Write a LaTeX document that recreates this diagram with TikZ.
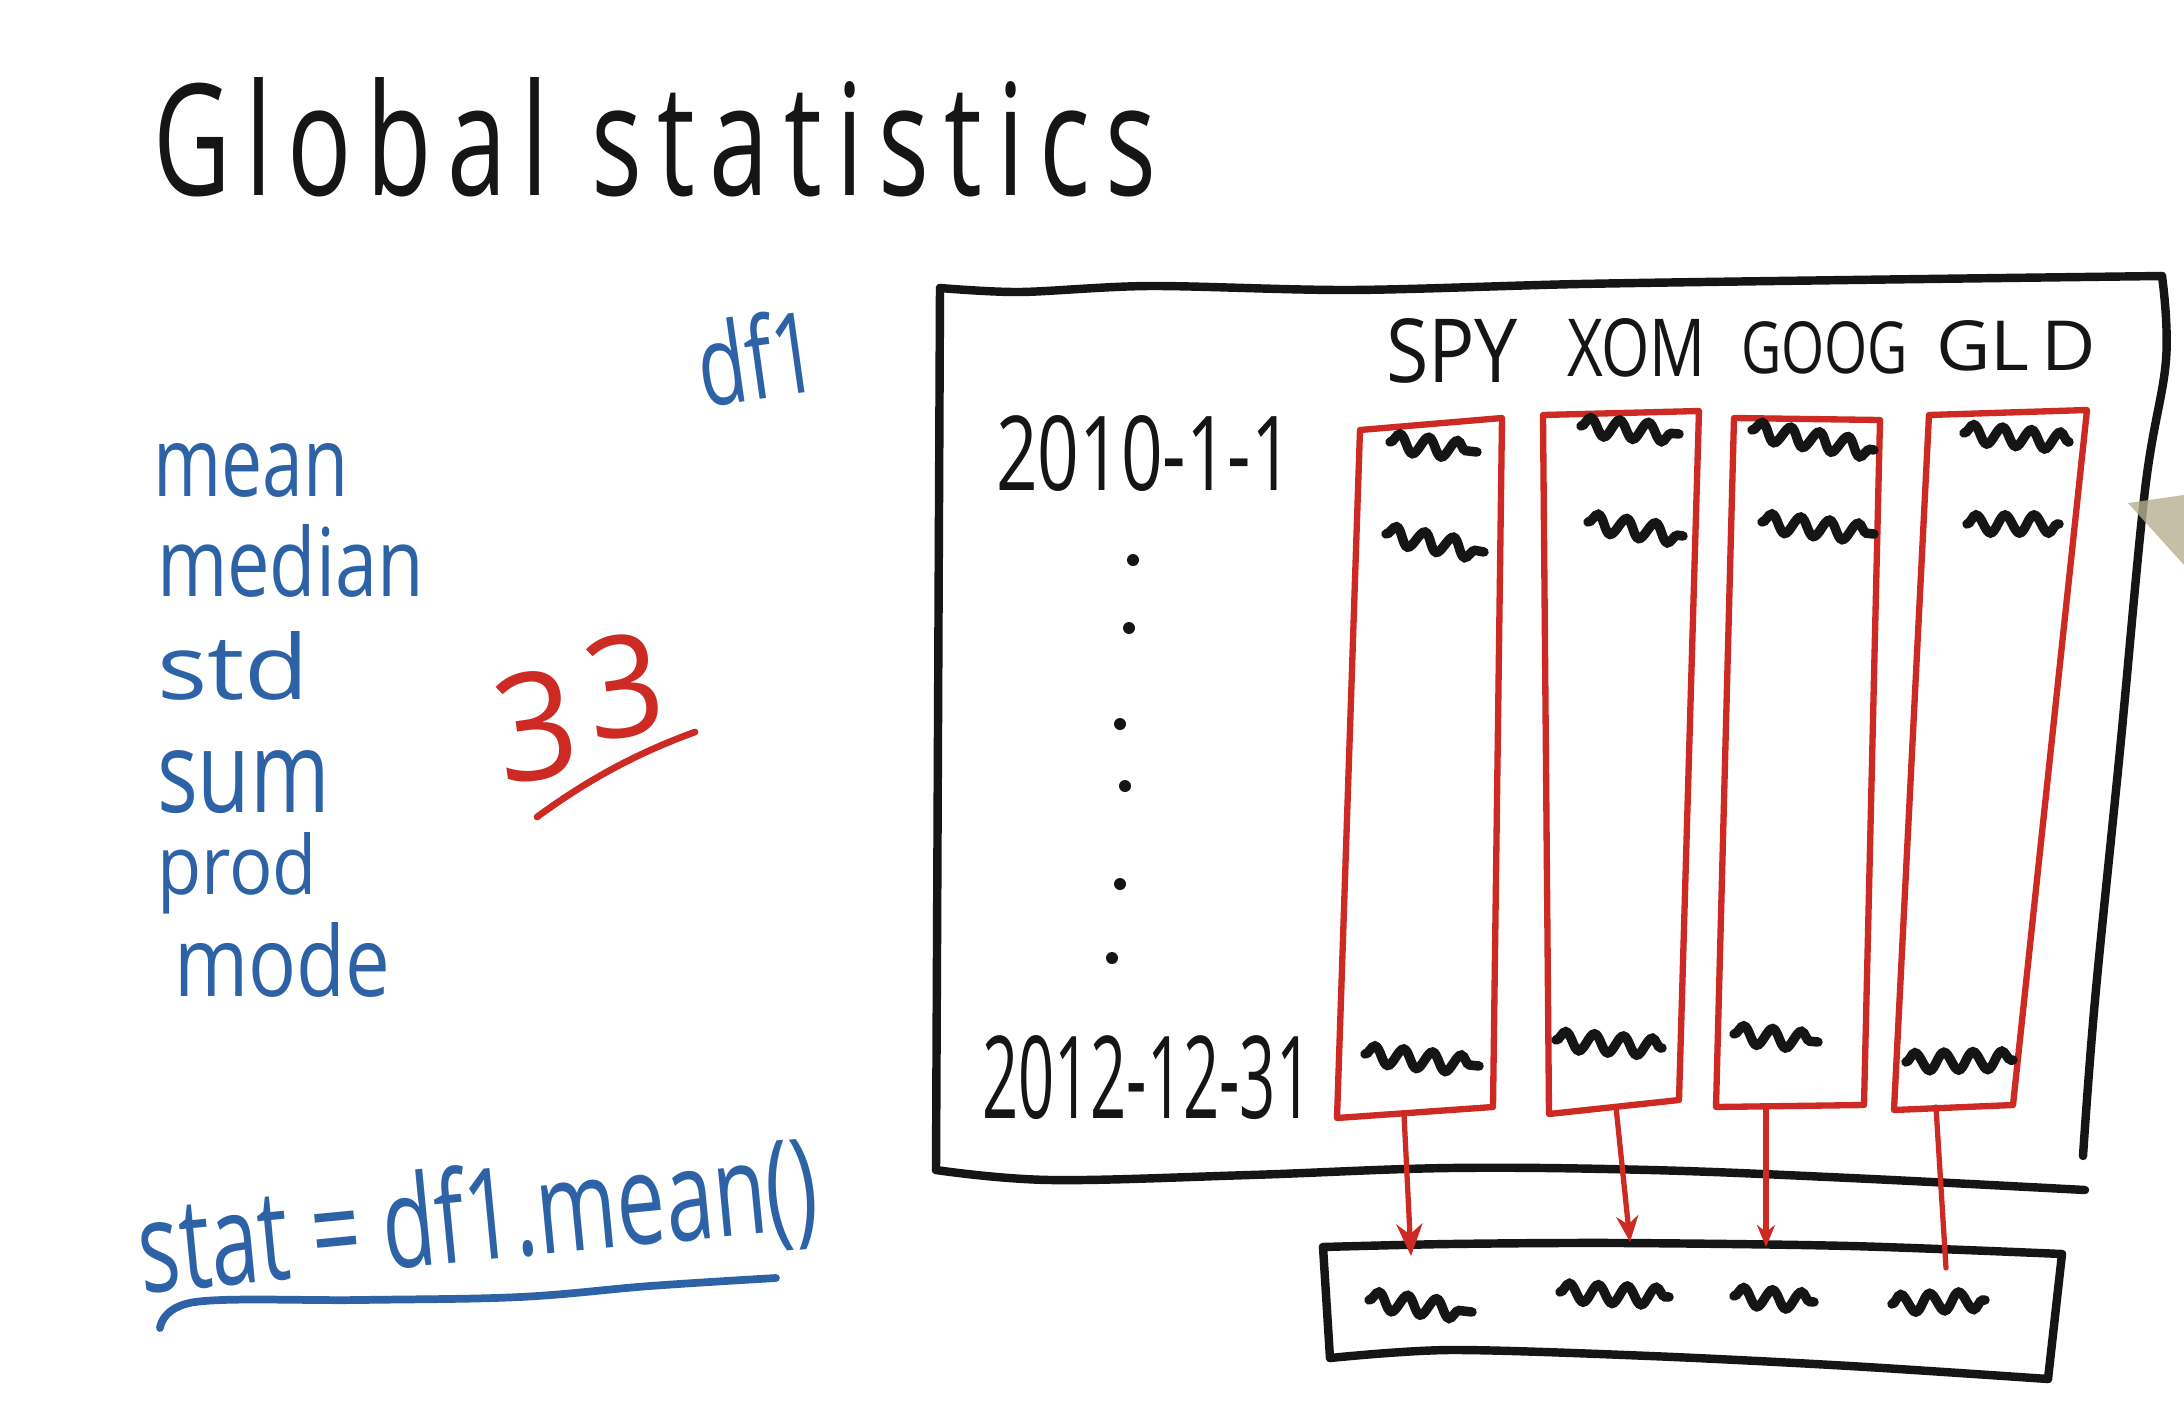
\documentclass[tikz,border=0pt]{standalone}
\usepackage{fontspec}
\setmainfont{Open Sans}
\newfontfamily\titlefont[LetterSpace=14]{Open Sans}
\usetikzlibrary{arrows.meta,decorations.pathmorphing}
\definecolor{pblue}{HTML}{2E62A6}
\definecolor{pred}{HTML}{CC2A22}
\definecolor{pblack}{HTML}{151515}
\definecolor{pen}{HTML}{B8AF92}
\newcommand\fitbox[3]{\resizebox{#1cm}{#2cm}{#3}}
\tikzset{
  txt/.style={inner sep=0pt, outer sep=0pt, anchor=base west},
  frame/.style={pblack, line width=2.4pt, line cap=round, line join=round},
  redbox/.style={pred, line width=1.8pt, line cap=round, line join=round},
  redarrow/.style={pred, line width=1.5pt, line cap=round},
  squ/.style={pblack, line width=2.7pt, line cap=round, decorate,
    decoration={snake, amplitude=0.9mm, segment length=2.9mm}},
  dotmark/.style={circle, fill=pblack, inner sep=0pt, minimum size=1.2mm},
}
\newcommand\squig[4]{\draw[squ] (#1,-#3) -- (#2,-#4);}
\begin{document}
\begin{tikzpicture}
\useasboundingbox (0,0) rectangle (21.84,-14.2);
\fill[white] (0,0) rectangle (21.84,-14.2);

% title
\node[txt, text=pblack] (title) at (1.53,-1.95) {\fitbox{10.03}{1.18}{\titlefont Global statistics}};

% blue list
\node[txt, text=pblue] (mean) at (1.53,-4.96) {\fitbox{1.95}{0.53}{mean}};
\node[txt, text=pblue] (median) at (1.57,-5.96) {\fitbox{2.67}{0.72}{median}};
\node[txt, text=pblue] (std) at (1.57,-6.99) {\fitbox{1.52}{0.68}{std}};
\node[txt, text=pblue] (sum) at (1.57,-8.12) {\fitbox{1.73}{0.62}{sum}};
\node[txt, text=pblue] (prod) at (1.57,-8.94) {\fitbox{1.60}{0.62}{prod}};
\node[txt, text=pblue] (mode) at (1.74,-9.96) {\fitbox{2.16}{0.74}{mode}};

\node[txt, text=pblue, rotate=8] (df) at (7.03,-4.07) {\fitbox{1.21}{0.86}{df1}};

% red 33
\node[inner sep=0pt, text=pred, rotate=8] (threeA) at (5.36,-7.26) {\fitbox{0.82}{1.08}{3}};
\node[inner sep=0pt, text=pred, rotate=8] (threeB) at (6.24,-6.86) {\fitbox{0.78}{1.02}{3}};
\draw[pred, line width=1.9pt, line cap=round] (5.37,-8.17) .. controls (5.9,-7.78) and (6.4,-7.52) .. (6.95,-7.32);

% stat line
\node[txt, text=pblue, rotate=5.5] (stat) at (1.43,-12.93) {\fitbox{6.81}{0.97}{stat = df1.mean()}};
\draw[pblue, line width=2.2pt, line cap=round] plot[smooth, tension=0.6] coordinates
  {(1.60,-13.28) (1.95,-13.02) (3.6,-13.0) (5.2,-12.97) (6.5,-12.86) (7.76,-12.78)};

% big frame
\draw[frame] plot[smooth, tension=0.5] coordinates
  {(9.40,-2.88) (10.2,-2.92) (11.5,-2.86) (13.5,-2.90) (15.8,-2.84) (18.5,-2.80) (21.62,-2.76)};
\draw[frame] plot[smooth, tension=0.6] coordinates
  {(21.62,-2.76) (21.66,-3.6) (21.45,-4.9) (21.2,-7.5) (20.95,-10.0) (20.83,-11.56)};
\draw[frame] (9.40,-2.88) -- (9.36,-11.70);
\draw[frame] plot[smooth, tension=0.6] coordinates
  {(9.36,-11.70) (10.5,-11.80) (12.5,-11.75) (14.5,-11.68) (16.5,-11.70) (18.5,-11.78) (20.85,-11.90)};

% headers
\node[txt, text=pblack] (spy) at (13.86,-3.82) {\fitbox{1.32}{0.64}{SPY}};
\node[txt, text=pblack] (xom) at (15.67,-3.76) {\fitbox{1.39}{0.58}{XOM}};
\node[txt, text=pblack] (goog) at (17.41,-3.73) {\fitbox{1.67}{0.52}{GOOG}};
\node[txt, text=pblack] (gld) at (19.36,-3.70) {\fitbox{1.60}{0.50}{GL\,D}};

% dates
\node[txt, text=pblack] (d1) at (9.96,-4.90) {\fitbox{2.97}{0.75}{2010-1-1}};
\node[txt, text=pblack] (d2) at (9.82,-11.18) {\fitbox{3.30}{0.83}{2012-12-31}};

% dots
\foreach \x/\y [count=\i] in {11.33/5.60, 11.29/6.28, 11.20/7.24, 11.25/7.86, 11.20/8.84, 11.12/9.58}
  \node[dotmark] (dot\i) at (\x,-\y) {};

% red columns
\draw[redbox] (13.60,-4.30) -- (15.02,-4.18) -- (14.93,-11.07) -- (13.37,-11.18) -- cycle;
\draw[redbox] (15.43,-4.15) -- (16.99,-4.11) -- (16.79,-11.00) -- (15.49,-11.14) -- cycle;
\draw[redbox] (17.34,-4.18) -- (18.80,-4.20) -- (18.64,-11.05) -- (17.16,-11.07) -- cycle;
\draw[redbox] (19.29,-4.15) -- (20.87,-4.10) -- (20.13,-11.05) -- (18.94,-11.10) -- cycle;

% squiggles
\squig{13.90}{14.77}{4.42}{4.52}
\squig{15.81}{16.79}{4.26}{4.34}
\squig{17.52}{18.74}{4.30}{4.50}
\squig{19.64}{20.69}{4.33}{4.42}
\squig{13.86}{14.84}{5.34}{5.52}
\squig{15.88}{16.83}{5.22}{5.36}
\squig{17.62}{18.74}{5.22}{5.34}
\squig{19.67}{20.59}{5.24}{5.24}
\squig{13.65}{14.79}{10.54}{10.66}
\squig{15.56}{16.62}{10.40}{10.48}
\squig{17.34}{18.18}{10.34}{10.42}
\squig{19.06}{20.13}{10.62}{10.60}

% bottom box
\draw[frame] plot[smooth, tension=0.5] coordinates
  {(13.23,-12.47) (14.5,-12.44) (16.2,-12.43) (18.5,-12.46) (20.62,-12.54)};
\draw[frame] (13.23,-12.47) -- (13.30,-13.58);
\draw[frame] (20.62,-12.54) -- (20.48,-13.79);
\draw[frame] plot[smooth, tension=0.5] coordinates
  {(13.30,-13.58) (14.5,-13.50) (16.5,-13.56) (18.5,-13.66) (20.48,-13.79)};
\squig{13.69}{14.72}{13.00}{13.12}
\squig{15.60}{16.69}{12.92}{12.97}
\squig{17.34}{18.14}{12.96}{13.02}
\squig{18.92}{19.85}{13.04}{13.00}

% arrows
\coordinate (s1) at (14.04,-11.14); \coordinate (t1) at (14.11,-12.56);
\coordinate (s2) at (16.16,-11.07); \coordinate (t2) at (16.30,-12.42);
\coordinate (s3) at (17.66,-11.07); \coordinate (t3) at (17.66,-12.47);
\coordinate (s4) at (19.36,-11.07); \coordinate (t4) at (19.46,-12.68);
\draw[redarrow, -{Stealth[length=3.2mm, width=2.6mm]}] (s1) -- (t1);
\draw[redarrow, -{Stealth[length=2.6mm, width=2.2mm]}] (s2) -- (t2);
\draw[redarrow, -{Stealth[length=2.2mm, width=1.8mm]}] (s3) -- (t3);
\draw[redarrow] (s4) -- (t4);

% pen tip
\fill[pen, opacity=0.8] (21.28,-5.03) -- (21.84,-4.95) -- (21.84,-5.65) -- cycle;
\end{tikzpicture}
\end{document}
